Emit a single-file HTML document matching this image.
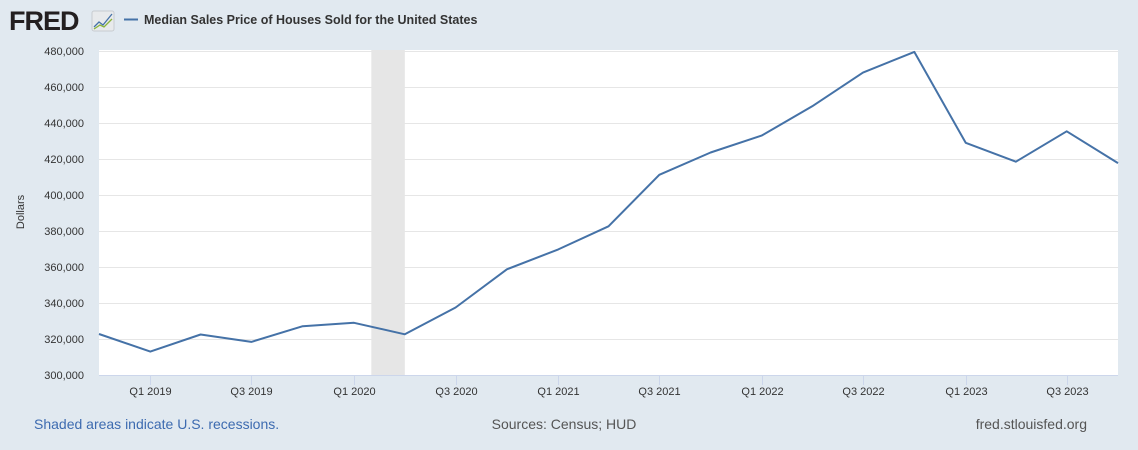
<!DOCTYPE html>
<html><head><meta charset="utf-8"><style>
body{margin:0;background:#e1e9f0;font-family:"Liberation Sans",Arial,sans-serif;}
svg{display:block}
</style></head><body>
<svg width="1138" height="450" xmlns="http://www.w3.org/2000/svg">
<rect width="1138" height="450" fill="#e1e9f0"/>
<text x="9" y="30" font-size="27" font-weight="bold" fill="#231f20" font-family="Liberation Sans,sans-serif" letter-spacing="-1">FRED</text>
<g>
<rect x="92" y="11" width="22" height="20" rx="2" fill="#e8eaec" stroke="#c8ccd0"/>
<polyline points="94,27 99,22 103,25 112,14" fill="none" stroke="#4572a7" stroke-width="1.3"/>
<polyline points="94,29 100,25 104,27 112,19" fill="none" stroke="#8ab43a" stroke-width="1.3"/>
</g>
<line x1="124" y1="19.5" x2="138" y2="19.5" stroke="#4572a7" stroke-width="2"/>
<text x="144" y="24" font-size="12.5" font-weight="bold" fill="#333">Median Sales Price of Houses Sold for the United States</text>
<rect x="99" y="50" width="1019" height="325" fill="#fff"/>
<g id="grid"></g>
<g id="rec"></g>
<g id="yticks"></g>
<g id="xticks"></g>
<line x1="99" y1="375.5" x2="1118" y2="375.5" stroke="#ccd6eb"/>
<path id="series" fill="none" stroke="#4572a7" stroke-width="2" stroke-linejoin="round"/>
<text transform="translate(24,212) rotate(-90)" text-anchor="middle" font-size="11" fill="#333">Dollars</text>
<text x="34" y="429" font-size="14" fill="#3d6bb0">Shaded areas indicate U.S. recessions.</text>
<text x="564" y="429" text-anchor="middle" font-size="14" fill="#555">Sources: Census; HUD</text>
<text x="1087" y="429" text-anchor="end" font-size="14" fill="#555">fred.stlouisfed.org</text>
</svg>
<script>
const dates=["2018-10-01","2019-01-01","2019-04-01","2019-07-01","2019-10-01","2020-01-01","2020-04-01","2020-07-01","2020-10-01","2021-01-01","2021-04-01","2021-07-01","2021-10-01","2022-01-01","2022-04-01","2022-07-01","2022-10-01","2023-01-01","2023-04-01","2023-07-01","2023-10-01"];
const prices=[322800,313000,322500,318400,327100,329000,322600,337500,358700,369800,382600,411200,423600,433100,449300,468000,479500,429000,418500,435400,417700];
const yTicks=[300000,320000,340000,360000,380000,400000,420000,440000,460000,480000];
const xTickDates=["2019-01-01","2019-07-01","2020-01-01","2020-07-01","2021-01-01","2021-07-01","2022-01-01","2022-07-01","2023-01-01","2023-07-01"];
const xTickLabels=["Q1 2019","Q3 2019","Q1 2020","Q3 2020","Q1 2021","Q3 2021","Q1 2022","Q3 2022","Q1 2023","Q3 2023"];
const recessions=[["2020-02-01","2020-04-01"]];
const NS="http://www.w3.org/2000/svg";
const t0=Date.parse("2018-10-01"),t1=Date.parse("2023-10-01");
function xs(d){return 99+(Date.parse(d)-t0)/(t1-t0)*1019;}
function ys(v){return 375-(v-300000)/180000*324;}
function mk(tag,attrs,parent){const e=document.createElementNS(NS,tag);for(const k in attrs)e.setAttribute(k,attrs[k]);document.getElementById(parent).appendChild(e);return e;}
yTicks.forEach(v=>{
 if(v>300000){const g=mk('line',{x1:99,x2:1118,y1:Math.round(ys(v))+.5,y2:Math.round(ys(v))+.5,stroke:'#e6e6e6'},'grid');
 
 }
 const t=mk('text',{x:84,y:ys(v)+4,'text-anchor':'end','font-size':11,fill:'#333'},'yticks');
 t.textContent=v.toLocaleString('en-US');
 
 
});
recessions.forEach(r=>{
 const e=mk('rect',{x:xs(r[0]),y:50,width:xs(r[1])-xs(r[0]),height:325,fill:'#e6e6e6'},'rec');
 
 
});
xTickDates.forEach((d,i)=>{
 const x=Math.round(xs(d))+.5;
 const l=mk('line',{x1:x,x2:x,y1:375,y2:385,stroke:'#ccd6eb'},'xticks');
 
 
 const t=mk('text',{x:x,y:395,'text-anchor':'middle','font-size':11,fill:'#333'},'xticks');
 t.textContent=xTickLabels[i];
 
 
});
document.getElementById('series').setAttribute('d',dates.map((d,i)=>(i?'L':'M')+xs(d).toFixed(1)+','+ys(prices[i]).toFixed(1)).join(''));
</script>
</body></html>
